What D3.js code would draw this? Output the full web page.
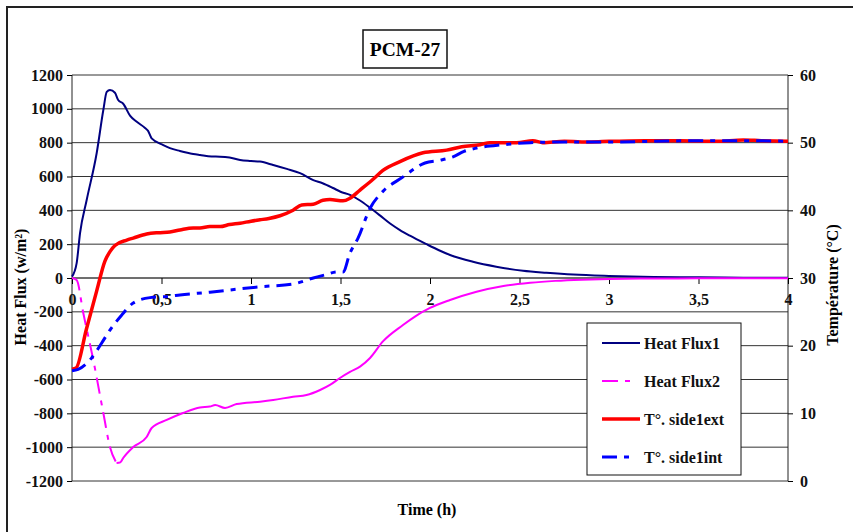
<!DOCTYPE html>
<html>
<head>
<meta charset="utf-8">
<script src="https://cdn.jsdelivr.net/npm/d3@7"></script>
<style>
  body { margin: 0; background: #fff; }
  svg text { font-family: "Liberation Serif", "Times New Roman", serif; }
</style>
</head>
<body>
<svg width="853" height="532"></svg>
<script>
// Heat Flux1 (left axis, W/m2)
var tHF1 = [0, 0.026, 0.045, 0.082, 0.138, 0.175, 0.194, 0.212, 0.24, 0.258, 0.286, 0.324, 0.36, 0.408, 0.425, 0.445, 0.51, 0.547, 0.603, 0.677, 0.715, 0.78, 0.827, 0.88, 0.939, 1.0, 1.05, 1.124, 1.2, 1.274, 1.348, 1.4, 1.458, 1.5, 1.553, 1.609, 1.665, 1.72, 1.777, 1.83, 1.888, 1.98, 2.05, 2.112, 2.24, 2.37, 2.52, 2.65, 2.8, 3.0, 3.25, 3.5, 3.75, 4.0];
var heatFlux1 = [8, 88, 266, 461, 739, 993, 1100, 1111, 1095, 1052, 1030, 960, 925, 887, 870, 825, 786, 768, 751, 733, 727, 718, 717, 712, 698, 692, 688, 668, 645, 620, 579, 560, 532, 510, 491, 458, 415, 370, 322, 285, 250, 200, 164, 136, 96, 67, 43, 31, 20, 12, 6, 4, 2, 1];

// Heat Flux2 (left axis)
var tHF2 = [0, 0.026, 0.063, 0.119, 0.175, 0.212, 0.249, 0.27, 0.286, 0.342, 0.417, 0.445, 0.529, 0.62, 0.715, 0.77, 0.8, 0.855, 0.92, 1.05, 1.124, 1.235, 1.31, 1.386, 1.441, 1.497, 1.553, 1.609, 1.665, 1.737, 1.849, 1.92, 2.0, 2.112, 2.26, 2.41, 2.56, 2.7, 2.85, 3.0, 3.25, 3.5, 4.0];
var heatFlux2 = [0, -12, -207, -485, -798, -999, -1094, -1090, -1064, -999, -940, -887, -839, -798, -765, -760, -751, -768, -745, -731, -721, -702, -692, -662, -632, -591, -555, -524, -473, -375, -278, -225, -177, -130, -81, -47, -28, -17, -10, -6, -3, -2, -1];

// T°. side1ext (right axis, °C)
var tExt = [0, 0.023, 0.08, 0.138, 0.184, 0.212, 0.24, 0.306, 0.342, 0.417, 0.48, 0.547, 0.603, 0.677, 0.715, 0.77, 0.827, 0.88, 0.939, 1.0, 1.05, 1.1, 1.162, 1.235, 1.283, 1.348, 1.402, 1.441, 1.514, 1.553, 1.609, 1.682, 1.737, 1.832, 1.961, 2.093, 2.177, 2.28, 2.335, 2.484, 2.575, 2.63, 2.75, 2.9, 3.0, 3.2, 3.4, 3.6, 3.75, 3.85, 4.0];
var tempExt = [16.5, 16.7, 22.4, 28.1, 32.5, 33.9, 34.8, 35.6, 35.9, 36.5, 36.7, 36.8, 37.1, 37.4, 37.4, 37.6, 37.6, 37.9, 38.1, 38.4, 38.6, 38.8, 39.2, 40.0, 40.8, 40.9, 41.5, 41.6, 41.4, 41.8, 43.0, 44.6, 45.9, 47.2, 48.5, 48.9, 49.4, 49.7, 50.0, 50.0, 50.3, 50.0, 50.2, 50.1, 50.2, 50.3, 50.3, 50.2, 50.4, 50.3, 50.2];

// T°. side1int (right axis)
var tInt = [0, 0.034, 0.11, 0.166, 0.212, 0.277, 0.342, 0.436, 0.547, 0.603, 0.771, 0.939, 1.05, 1.235, 1.348, 1.42, 1.479, 1.514, 1.553, 1.598, 1.665, 1.737, 1.842, 1.972, 2.056, 2.128, 2.19, 2.26, 2.41, 2.56, 2.75, 3.0, 3.25, 3.5, 3.75, 4.0];
var tempInt = [16.3, 16.5, 18.2, 20.4, 22.3, 24.5, 26.3, 27.1, 27.3, 27.5, 27.9, 28.4, 28.7, 29.1, 30.0, 30.5, 30.9, 30.9, 33.7, 35.9, 40.3, 42.8, 44.8, 47.0, 47.4, 47.9, 48.7, 49.2, 49.7, 50.0, 50.1, 50.1, 50.2, 50.3, 50.3, 50.2];

var xTicks = [0, 0.5, 1, 1.5, 2, 2.5, 3, 3.5, 4];
var leftTicks = [-1200, -1000, -800, -600, -400, -200, 0, 200, 400, 600, 800, 1000, 1200];
var rightTicks = [0, 10, 20, 30, 40, 50, 60];
var seriesNames = ["Heat Flux1", "Heat Flux2", "T°. side1ext", "T°. side1int"];

var svg = d3.select("svg"),
    margin = {top: 75, right: 65, bottom: 51, left: 72},
    width = +svg.attr("width") - margin.left - margin.right,
    height = +svg.attr("height") - margin.top - margin.bottom;

var x = d3.scaleLinear().domain([0, 4]).range([0, width]),
    y = d3.scaleLinear().domain([-1200, 1200]).range([height, 0]),
    y2 = d3.scaleLinear().domain([0, 60]).range([height, 0]);

var fmt = function(d) { return String(d).replace(".", ","); };

// outer frame
svg.append("rect")
  .attr("x", 7).attr("y", 7).attr("width", 900).attr("height", 600)
  .attr("fill", "none").attr("stroke", "#222").attr("stroke-width", 2);

var g = svg.append("g")
    .attr("transform", "translate(" + margin.left + "," + margin.top + ")");

// gridlines
g.selectAll(".grid")
  .data(leftTicks)
  .enter().append("line")
    .attr("class", "grid")
    .attr("x1", 0).attr("x2", width)
    .attr("y1", function(d) { return y(d); })
    .attr("y2", function(d) { return y(d); })
    .attr("stroke", "#333").attr("stroke-width", 1);

// left axis
var ya = g.append("g")
  .call(d3.axisLeft(y).tickValues(leftTicks).tickSize(5).tickPadding(4).tickFormat(fmt));
ya.select(".domain").attr("stroke", "#222").attr("d", "M0," + height + "V0");
ya.selectAll("text").attr("font-size", 16).attr("font-weight", "bold").attr("fill", "#111");

// right axis
var yb = g.append("g")
  .attr("transform", "translate(" + width + ",0)")
  .call(d3.axisRight(y2).tickValues(rightTicks).tickSize(5).tickPadding(7).tickFormat(fmt));
yb.select(".domain").attr("stroke", "#222").attr("d", "M0," + height + "V0");
yb.selectAll("text").attr("font-size", 16).attr("font-weight", "bold").attr("fill", "#111");

// x axis at zero
var xa = g.append("g")
  .attr("transform", "translate(0," + y(0) + ")")
  .call(d3.axisBottom(x).tickValues(xTicks).tickSize(6).tickPadding(10).tickFormat(fmt));
xa.select(".domain").attr("stroke", "#444").attr("d", "M0,0H" + width);
xa.selectAll("text").attr("font-size", 16).attr("font-weight", "bold").attr("fill", "#111");

// lines
var lineL = function(ts) {
  return d3.line()
    .x(function(d, i) { return x(ts[i]); })
    .y(function(d) { return y(d); })
    .curve(d3.curveMonotoneX);
};
var lineR = function(ts) {
  return d3.line()
    .x(function(d, i) { return x(ts[i]); })
    .y(function(d) { return y2(d); })
    .curve(d3.curveMonotoneX);
};

g.append("path")
  .attr("d", lineL(tHF1)(heatFlux1))
  .attr("fill", "none").attr("stroke", "#000080").attr("stroke-width", 2);

// Heat Flux2: dash pattern visible on the steep drop, solid once points get dense
var iMin = d3.minIndex(heatFlux2);
g.append("path")
  .attr("d", lineL(tHF2.slice(0, iMin + 1))(heatFlux2.slice(0, iMin + 1)))
  .attr("fill", "none").attr("stroke", "#ff00ff").attr("stroke-width", 2)
  .attr("stroke-dasharray", "16,7,5,7");
g.append("path")
  .attr("d", lineL(tHF2.slice(iMin))(heatFlux2.slice(iMin)))
  .attr("fill", "none").attr("stroke", "#ff00ff").attr("stroke-width", 2);

g.append("path")
  .attr("d", lineR(tExt)(tempExt))
  .attr("fill", "none").attr("stroke", "#ff0000").attr("stroke-width", 3.5);

g.append("path")
  .attr("d", lineR(tInt)(tempInt))
  .attr("fill", "none").attr("stroke", "#0000ff").attr("stroke-width", 3)
  .attr("stroke-dasharray", "15,7,5,7");

// legend
var legend = svg.append("g").attr("transform", "translate(587,323)");
legend.append("rect")
  .attr("width", 154).attr("height", 152)
  .attr("fill", "#fff").attr("stroke", "#111").attr("stroke-width", 1);
var legStyle = [
  {c: "#000080", w: 2, dash: null, len: 38},
  {c: "#ff00ff", w: 2, dash: "16,7,5,7", len: 30},
  {c: "#ff0000", w: 3.5, dash: null, len: 38},
  {c: "#0000ff", w: 3, dash: "15,7,5,7", len: 30}
];
var item = legend.selectAll(".item")
  .data(seriesNames)
  .enter().append("g")
    .attr("transform", function(d, i) { return "translate(0," + (20 + i * 38) + ")"; });
item.append("line")
  .attr("x1", 15).attr("x2", function(d, i) { return 15 + legStyle[i].len; })
  .attr("stroke", function(d, i) { return legStyle[i].c; })
  .attr("stroke-width", function(d, i) { return legStyle[i].w; })
  .attr("stroke-dasharray", function(d, i) { return legStyle[i].dash; });
item.append("text")
  .attr("x", 57).attr("dy", "0.35em")
  .attr("font-size", 16).attr("font-weight", "bold").attr("fill", "#111")
  .text(function(d) { return d; });

// title box
svg.append("rect")
  .attr("x", 363).attr("y", 30).attr("width", 84).attr("height", 38)
  .attr("fill", "#fff").attr("stroke", "#111").attr("stroke-width", 1.5);
svg.append("text")
  .attr("x", 405).attr("y", 56)
  .attr("text-anchor", "middle").attr("font-size", 19.5).attr("font-weight", "bold")
  .text("PCM-27");

// axis titles
svg.append("text")
  .attr("transform", "translate(26,287) rotate(-90)")
  .attr("text-anchor", "middle").attr("font-size", 16).attr("font-weight", "bold")
  .text("Heat Flux (w/m²)");
svg.append("text")
  .attr("transform", "translate(838,285) rotate(-90)")
  .attr("text-anchor", "middle").attr("font-size", 16).attr("font-weight", "bold")
  .text("Température (°C)");
svg.append("text")
  .attr("x", 427).attr("y", 515)
  .attr("text-anchor", "middle").attr("font-size", 16).attr("font-weight", "bold")
  .text("Time (h)");
</script>
</body>
</html>
